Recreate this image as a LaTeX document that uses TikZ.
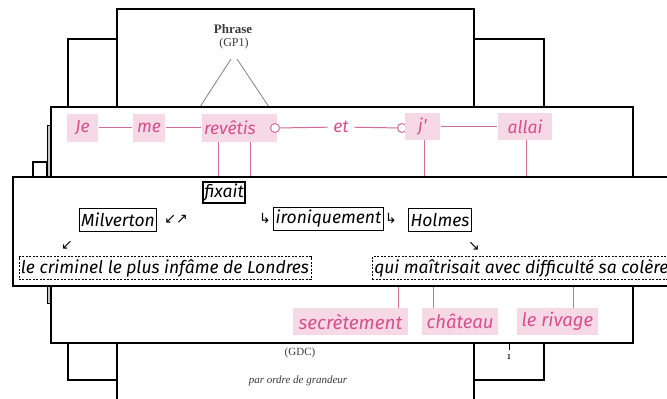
\documentclass[tikz,border=0pt]{standalone}
\usepackage{fontspec}
\setmainfont{Liberation Serif}
\newfontfamily\fira{Fira Sans}
\newfontfamily\dejavu{DejaVu Sans}
\definecolor{pinktext}{HTML}{D4508C}
\definecolor{pinkfill}{HTML}{F7D9E6}
\definecolor{pinkline}{HTML}{D66A9C}
\definecolor{inkgray}{HTML}{3A3A3A}

\begin{document}
\begin{tikzpicture}[x=1pt,y=-1pt,line width=1.3pt,
    frame/.style={draw=black,line width=1.4pt},
    word/.style={fill=pinkfill,text=pinktext,font=\fira\itshape\fontsize{17.5}{17}\selectfont,minimum height=28,inner sep=0pt},
    link/.style={draw=pinkline,line width=1pt},
    ring/.style={draw=pinkline,fill=white,circle,minimum size=9,inner sep=0pt,line width=1pt},
    tag/.style={draw,line width=0.6pt,inner sep=2pt,minimum height=23,font=\fira\itshape\fontsize{17.5}{17}\selectfont},
    phrasebox/.style={tag,dashed,dash pattern=on 2pt off 1.5pt},
    glyph/.style={font=\dejavu\fontsize{14}{14}\selectfont,inner sep=0pt}]
  \useasboundingbox (0,0) rectangle (667,399);
  \clip (0,0) rectangle (667,399);
  % pages behind
  \draw[frame] (117,107) -- (117,9) -- (474,9) -- (474,107);
  \draw[frame] (68,107) -- (68,39) -- (117,39);
  \draw[frame] (474,39) -- (544,39) -- (544,107);
  \draw[frame] (117,343) -- (117,405);
  \draw[frame] (474,343) -- (474,405);
  \draw[frame] (68,343) -- (68,380) -- (117,380);
  \draw[frame] (474,380) -- (544,380) -- (544,343);
  \node[font=\bfseries\fontsize{13}{13}\selectfont,text=inkgray] (phrase) at (233,29) {Phrase};
  \node[font=\fontsize{12}{12}\selectfont,text=inkgray] (gp1) at (234,44) {(GP1)};
  \coordinate (gpl) at (198,110);
  \coordinate (gpr) at (271,110);
  \draw[gray,line width=0.8pt] (231,59) -- (gpl);
  \draw[gray,line width=0.8pt] (237,59) -- (gpr);
  \node[font=\fontsize{11}{11}\selectfont,text=inkgray] (gdc) at (300,353) {(GDC)};
  \node[font=\itshape\fontsize{11}{11}\selectfont,text=inkgray] (ordre) at (298,381) {par ordre de grandeur};
  \coordinate (tick) at (509,343);
  \node[font=\sffamily\bfseries\fontsize{7}{7}\selectfont,inner sep=0pt] (one) at (509,357) {1};
  \draw[line width=0.6pt] (tick) -- ++(0,7);
  % side strips
  \draw[line width=1pt,fill=gray!45] (47,125) rectangle (51,303);
  \draw[frame,fill=white] (33,162) rectangle (47,177);
  % pink panel
  \draw[frame,fill=white] (51,107) rectangle (633,343);
  \node[word,minimum width=31] (je) at (82.5,127.5) {Je};
  \node[word,minimum width=32] (me) at (149,127.5) {me};
  \node[word,minimum width=75,text width=71,align=left] (revetis) at (239.5,127.5) {revêtis};
  \node[ring] (c1) at (275,128) {};
  \node[text=pinktext,font=\fira\itshape\fontsize{17.5}{17}\selectfont,inner sep=5pt] (et) at (341,127) {et};
  \node[ring] (c2) at (402,128) {};
  \node[word,minimum width=35,minimum height=27] (j) at (422.5,126.5) {j'};
  \node[word,minimum width=54,minimum height=27] (allai) at (525,126.5) {allai};
  \draw[link] (je) -- (me);
  \draw[link] (me) -- (revetis);
  \draw[link] (c1) -- (et);
  \draw[link] (et) -- (c2);
  \draw[link] (j) -- (allai);
  \draw[link] (218,141.5) -- (218,180);
  \draw[link] (250,141.5) -- (250,180);
  \draw[link] (424,140) -- (424,180);
  \draw[link] (526,140) -- (526,180);
  \node[word,minimum width=115,minimum height=27,font=\fira\itshape\fontsize{19}{19}\selectfont] (secret) at (350.5,321.5) {secrètement};
  \node[word,minimum width=76,minimum height=27,font=\fira\itshape\fontsize{18.5}{18}\selectfont] (chateau) at (460,321.5) {château};
  \node[word,minimum width=81,minimum height=27,font=\fira\itshape\fontsize{18.5}{18}\selectfont] (rivage) at (557.5,321.5) {le rivage};
  \draw[link] (398,308) -- (398,280);
  \draw[link] (433,308) -- (433,280);
  \draw[link] (573,308) -- (573,280);
  % front panel
  \draw[frame,fill=white] (13,177) rectangle (690,286);
  \node[tag,line width=2.2pt,minimum height=20,inner sep=1.5pt] (fixait) at (224,192.5) {fixait};
  \node[tag] (milverton) at (118,220) {Milverton};
  \node[glyph] (pair) at (176,219) {↙↗};
  \node[glyph] (hook1) at (265,218) {↳};
  \node[tag] (ironique) at (328.5,219) {ironiquement};
  \node[glyph] (hook2) at (391,218) {↳};
  \node[tag] (holmes) at (440,220) {Holmes};
  \node[glyph] (sw) at (67,245) {↙};
  \node[glyph] (se) at (474,246) {↘};
  \node[phrasebox] (criminel) at (165,268) {le criminel le plus infâme de Londres};
  \node[phrasebox,anchor=west] (colere) at (372,268) {qui maîtrisait avec difficulté sa colère};
\end{tikzpicture}
\end{document}
